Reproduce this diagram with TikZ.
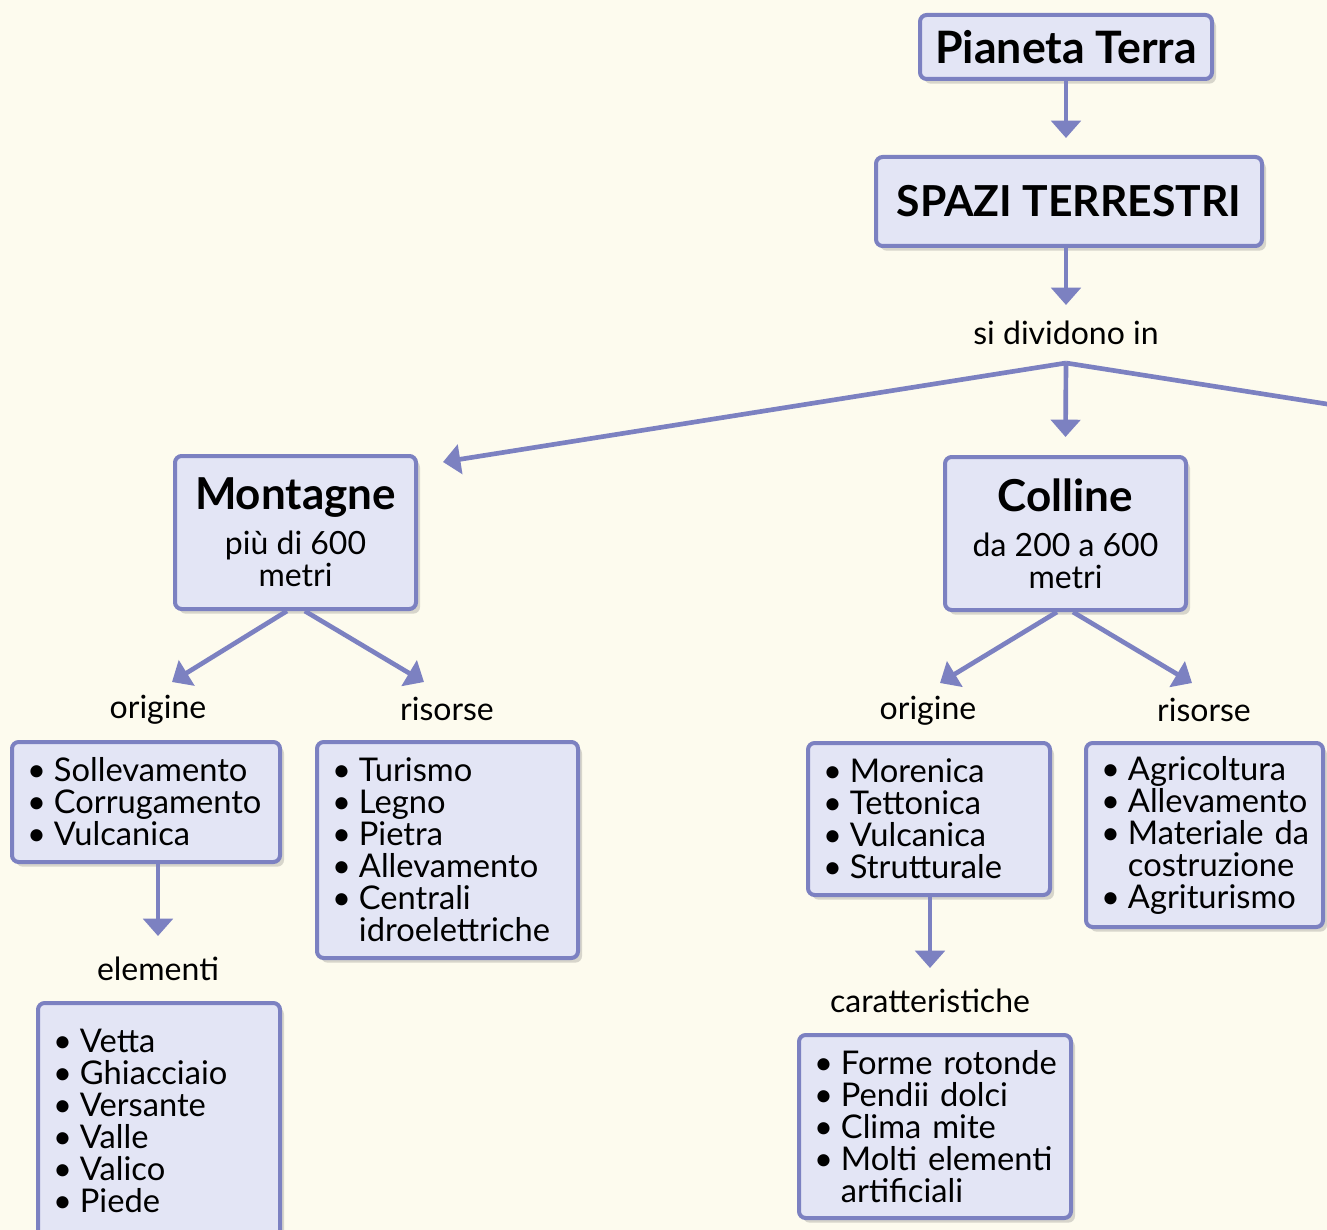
\documentclass[tikz,border=0pt]{standalone}
\usepackage{fontspec}
\setmainfont{Lato}
\usetikzlibrary{arrows.meta,shadows}
\definecolor{bgc}{HTML}{FDFBEE}
\definecolor{boxf}{HTML}{E3E5F5}
\definecolor{edgec}{HTML}{7C81C1}
\newcommand\bu{\mbox{•\kern6pt}}
\newcommand\ind{\hphantom{\bu}}
\tikzset{
  box/.style={draw=edgec, line width=3pt, fill=boxf, rounded corners=5pt,
    drop shadow={shadow xshift=3pt, shadow yshift=-3.5pt, opacity=0.25, fill=black!60},
    font=\fontsize{24}{24}\selectfont, inner sep=0pt},
  listbox/.style={box, align=left, inner xsep=11.25pt, inner ysep=0pt,
    font=\fontsize{24.5}{24}\selectfont,
    execute at begin node={\hyphenpenalty=10000\exhyphenpenalty=10000\hbadness=10000\hfuzz=50pt}},
  titlebox/.style={box, align=center},
  lab/.style={font=\fontsize{24}{24}\selectfont, inner sep=0pt},
  arr/.style={draw=edgec, line width=3.5pt, -{Triangle[width=22pt,length=13pt]}},
  ln/.style={draw=edgec, line width=3.5pt}
}
\begin{document}
\begin{tikzpicture}[x=0.75pt,y=-0.75pt]
\useasboundingbox (0,0) rectangle (1327,1230);
\clip (0,0) rectangle (1327,1230);
\fill[bgc] (0,0) rectangle (1327,1230);

% top
\node[titlebox, minimum width=219pt, minimum height=48pt, font=\fontsize{33.5}{34}\selectfont\bfseries] (pt) at (1066,47) {Pianeta Terra};
\node[titlebox, minimum width=289.5pt, minimum height=66.75pt, font=\fontsize{32}{32}\selectfont\bfseries] (sp) at (1069,201.5) {SPAZI TERRESTRI};
\node[lab] (sdiv) at (1066,333) {si dividono in};
\coordinate (br) at (1066,363);
\coordinate (offR) at (1400,415.5);

% main categories
\node[titlebox, minimum width=180.75pt, minimum height=114.75pt] (mont) at (295.5,532.5)
  {{\fontsize{33}{33}\selectfont\bfseries Montagne}\\[10pt]più~di~600\\metri};
\node[titlebox, minimum width=180.75pt, minimum height=114.75pt] (coll) at (1065.5,533.5)
  {{\fontsize{33}{33}\selectfont\bfseries Colline}\\[10pt]da~200~a~600\\metri};

% labels
\node[lab] (oM) at (158,710) {origine};
\node[lab] (rM) at (447,709) {risorse};
\node[lab] (eM) at (158,969) {elementi};
\node[lab] (oC) at (928,711) {origine};
\node[lab] (rC) at (1204,710) {risorse};
\node[lab] (cC) at (930,1001) {caratteristiche};

% lists
\node[listbox, text width=178.5pt, minimum height=90pt] (mo) at (146,802)
  {\bu Sollevamento\\\bu Corrugamento\\\bu Vulcanica};
\node[listbox, text width=173.25pt, minimum height=162pt] (mr) at (447.5,850)
  {\bu Turismo\\\bu Legno\\\bu Pietra\\\bu Allevamento\\\bu Centrali\\\ind idroelettriche};
\node[listbox, text width=159pt, minimum height=177pt] (me) at (159,1121)
  {\bu Vetta\\\bu Ghiacciaio\\\bu Versante\\\bu Valle\\\bu Valico\\\bu Piede};
\node[listbox, text width=159pt, minimum height=114pt] (co) at (929,819)
  {\bu Morenica\\\bu Tettonica\\\bu Vulcanica\\\bu Strutturale};
\node[listbox, text width=155.25pt, minimum height=138pt] (cr) at (1204.5,835)
  {\bu Agricoltura\\\bu Allevamento\\\bu Materiale~da\\\ind costruzione\\\bu Agriturismo};
\node[listbox, text width=181.5pt, minimum height=137.25pt] (cc) at (935,1126.5)
  {\bu Forme~rotonde\\\bu Pendii~dolci\\\bu Clima~mite\\\bu Molti~elementi\\\ind artificiali};

% connectors
\draw[arr, shorten >=12.75pt] (pt.south) -- (pt.south |- sp.north);
\draw[arr] (sdiv.center |- sp.south) -- ([yshift=21pt]sdiv.center);
\draw[arr] (br) -- ([xshift=18.75pt,yshift=-6pt]mont.north east);
\draw[arr] (br) -- ([yshift=13.5pt]coll.north);
\draw[ln] (br) -- (offR);

\draw[arr] ([xshift=-6.4pt]mont.south) -- ([xshift=10.5pt,yshift=21pt]oM.center);
\draw[arr] ([xshift=7pt]mont.south) -- ([xshift=-17.25pt,yshift=20.25pt]rM.center);
\draw[arr] ([xshift=-6.4pt]coll.south) -- ([xshift=9pt,yshift=21pt]oC.center);
\draw[arr] ([xshift=5.6pt]coll.south) -- ([xshift=-9pt,yshift=20.25pt]rC.center);

\draw[arr] (eM.center |- mo.south) -- ([yshift=24.75pt]eM.center);
\draw[arr] (cC.center |- co.south) -- ([yshift=24.75pt]cC.center);
\end{tikzpicture}
\end{document}
